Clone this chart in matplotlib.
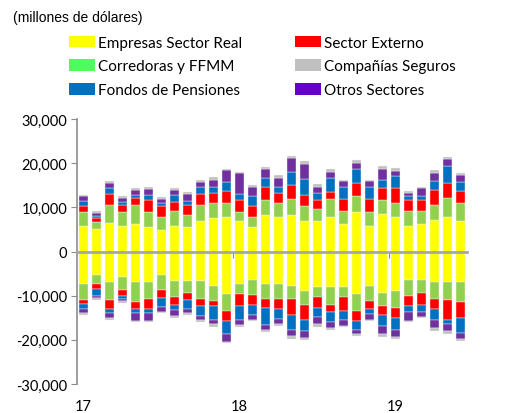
import numpy as np
import matplotlib
matplotlib.use("Agg")
from matplotlib import pyplot as plt
from matplotlib.patches import Patch

# months Jan-2017 .. Jun-2019
months = np.arange(30)
year_pos = [0, 12, 24]
year_labels = ["17", "18", "19"]

# inflows (millones de dolares)
real_pos = [5800, 5200, 6500, 5800, 6200, 5500, 4900, 5800, 5500, 6900,
            7500, 7800, 6900, 5500, 8200, 7800, 8200, 6900, 6900, 7800,
            6200, 8900, 5800, 8500, 7800, 5800, 6200, 7200, 7800, 6900]
corr_pos = [3100, 1400, 4000, 3100, 4300, 3400, 3000, 3400, 2700, 3700,
            3400, 3100, 2000, 2300, 3400, 3100, 3700, 3400, 2700, 4000,
            3000, 3700, 3100, 3100, 3100, 3400, 3000, 3400, 4400, 4000]
ext_pos = [1300, 900, 2500, 1600, 1600, 2700, 2400, 2000, 2300, 2500,
           2400, 2700, 2700, 2400, 3000, 2300, 3100, 2400, 2000, 1700,
           2700, 3000, 3000, 2800, 3400, 2400, 2400, 3400, 3400, 2700]
pens_pos = [1300, 600, 1300, 700, 800, 1300, 700, 1700, 1000, 1600,
            1300, 2100, 1400, 2400, 2100, 1300, 3100, 3700, 1700, 3100,
            2800, 3100, 2800, 1900, 2700, 1000, 1000, 2000, 3700, 2100]
otros_pos = [1000, 700, 1300, 1000, 1000, 1300, 1000, 1000, 1600, 1000,
             1700, 2700, 4700, 2000, 2000, 2100, 3100, 3400, 1300, 1300,
             1300, 1300, 1300, 2400, 1300, 600, 1700, 1700, 1700, 1600]
seg_pos = [400, 400, 400, 300, 400, 400, 400, 400, 400, 400,
           600, 300, 400, 400, 400, 700, 400, 700, 700, 700,
           300, 700, 300, 700, 700, 400, 400, 700, 400, 400]

# outflows
real_neg = [-7300, -5300, -7000, -5700, -7000, -7000, -5300, -6700, -6700, -6700,
            -7700, -9700, -7300, -6400, -7300, -7300, -7700, -9000, -8100, -8100,
            -8100, -9700, -7700, -9300, -9000, -6400, -6400, -7000, -7000, -7000]
corr_neg = [-3700, -2000, -4000, -3100, -4400, -3700, -3400, -3700, -2600, -4000,
            -3400, -3700, -2400, -3400, -3400, -3400, -3000, -3100, -2300, -4000,
            -2300, -3700, -3400, -3100, -3700, -3700, -3100, -3700, -4000, -4400]
ext_neg = [-900, -1100, -2000, -1200, -1600, -2300, -1900, -1600, -1700, -1600,
           -1300, -2300, -2700, -2300, -2000, -2400, -3700, -3400, -2400, -1600,
           -3000, -2300, -2000, -2000, -2300, -2300, -2600, -2300, -4400, -3700]
pens_neg = [-1100, -1600, -1000, -700, -1000, -1000, -2000, -1300, -2000, -2300,
            -3000, -3000, -3000, -2300, -4000, -2100, -3400, -2400, -2000, -2300,
            -2100, -2100, -1000, -2400, -2700, -1300, -1700, -2400, -1000, -3400]
otros_neg = [-900, -600, -1000, -600, -1700, -1700, -1000, -1300, -900, -1000,
             -1000, -1700, -1300, -1000, -1000, -1200, -1300, -1600, -1600, -1300,
             -1300, -900, -1300, -1900, -1600, -2000, -1000, -1900, -1600, -1300]
seg_neg = [-400, -300, -500, -300, -300, -300, -300, -400, -400, -300,
           -600, -300, -300, -400, -500, -400, -700, -600, -600, -400,
           -400, -400, -300, -700, -400, -300, -300, -700, -700, -400]

names = ["Empresas Sector Real", "Corredoras y FFMM", "Fondos de Pensiones",
         "Sector Externo", "Compañías Seguros", "Otros Sectores"]
bar_colors = {"real": "#FFFF00", "corr": "#92D050", "ext": "#FF0000",
              "pens": "#0070C0", "otros": "#7030A0", "seg": "#BFBFBF"}
legend_colors = ["#FFFF00", "#4CFF5C", "#0070C0", "#FF0000", "#C0C0C0", "#6600CC"]

fig = plt.figure(figsize=(5.15, 4.14), dpi=100)
ax = fig.add_axes([77 / 515, 29 / 414, 390 / 515, 265 / 414])

w = 0.76
order = [("real", real_pos, real_neg), ("corr", corr_pos, corr_neg),
         ("ext", ext_pos, ext_neg), ("pens", pens_pos, pens_neg),
         ("otros", otros_pos, otros_neg), ("seg", seg_pos, seg_neg)]
bot_p = np.zeros(30)
bot_n = np.zeros(30)
for key, pos, neg in order:
    pos = np.array(pos, dtype=float)
    neg = np.array(neg, dtype=float)
    ax.bar(months, pos, w, bottom=bot_p, color=bar_colors[key],
           edgecolor="#f4f4f4", linewidth=0.3)
    ax.bar(months, neg, w, bottom=bot_n, color=bar_colors[key],
           edgecolor="#f4f4f4", linewidth=0.3)
    bot_p += pos
    bot_n += neg

ax.set_xlim(-0.5, 29.5)
ax.set_ylim(-30000, 30000)
ax.set_yticks(np.arange(-30000, 30001, 10000))
ax.set_yticklabels([f"{v:,}" for v in range(-30000, 30001, 10000)],
                   fontsize=10.5, family="Lato")
ax.tick_params(axis="y", length=4, color="#8c8c8c", pad=3)

for s in ["top", "right"]:
    ax.spines[s].set_visible(False)
ax.spines["left"].set_color("#8c8c8c")
ax.spines["left"].set_linewidth(1.2)
ax.spines["bottom"].set_position(("data", 0))
ax.spines["bottom"].set_color("#a6a6a6")
ax.spines["bottom"].set_linewidth(2)
ax.set_xticks([11.5, 23.5])
ax.set_xticklabels([])
ax.tick_params(axis="x", length=4, color="#8c8c8c", direction="out")

sec = ax.secondary_xaxis(0)
sec.set_xticks(year_pos)
sec.set_xticklabels(year_labels, fontsize=10.5, family="Lato")
sec.tick_params(length=0, pad=11)
sec.spines["bottom"].set_visible(False)

handles = [Patch(facecolor=c, edgecolor="none") for c in legend_colors]
fig.legend(handles, names, ncol=2, loc="upper left", bbox_to_anchor=(58 / 515, 1 - 26 / 414),
           frameon=False, prop={"family": "Lato", "size": 11},
           handlelength=1.7, handleheight=0.8, handletextpad=0.2,
           columnspacing=3.5, labelspacing=0.62, borderpad=0.2)

fig.text(13 / 515, 1 - 18 / 414, "(millones de dólares)", fontsize=10,
         family="Liberation Sans", va="center", ha="left")

fig.savefig("out.png", dpi=100)
